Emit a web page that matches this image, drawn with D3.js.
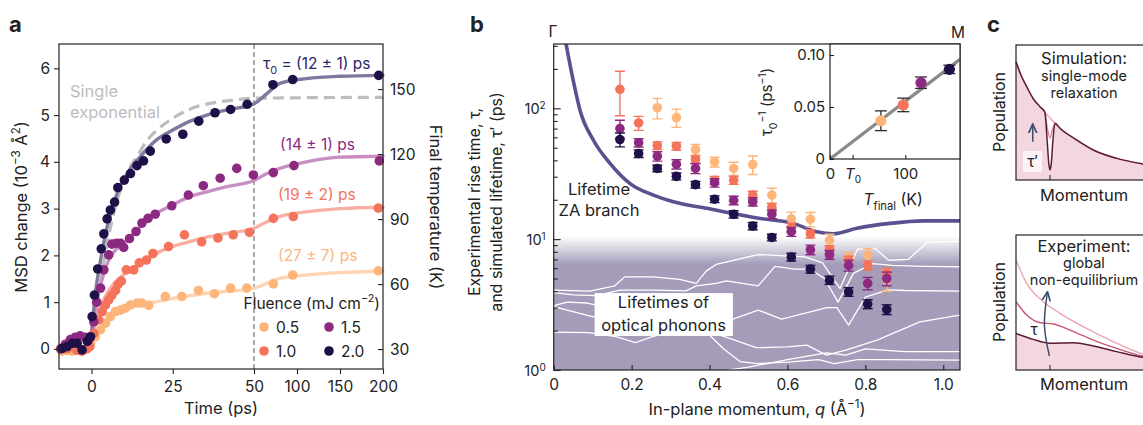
<!DOCTYPE html>
<html>
<head>
<meta charset="utf-8">
<script src="https://cdn.jsdelivr.net/npm/d3@7"></script>
<style>
  body { margin: 0; background: #fff; }
  svg { display: block; font-family: Inter, "Noto Sans", sans-serif; }
</style>
</head>
<body>
<svg id="fig" width="1143" height="425"></svg>
<script>
// ---------- panel a : MSD change vs time ----------
const fluences = ["0.5", "1.0", "1.5", "2.0"];
const fluenceColors = ["#fdb57a", "#f4735b", "#8c2981", "#1f1148"];
const fitColors = ["#fed4b3", "#f9b0a2", "#c98fc2", "#7f789f"];
const tauLabels = ["(27 ± 7) ps", "(19 ± 2) ps", "(14 ± 1) ps", "(12 ± 1) ps"];
const timeTicks = [0, 25, 50, 100, 150, 200];
const msdTicks = [0, 1, 2, 3, 4, 5, 6];
const tempTicks = [30, 60, 90, 120, 150];

const t05 = [-9, -7.5, -6, -4.5, -3, -1.5, -0.3, 1.2, 2.8, 4.3, 5.8, 7.4, 8.9, 10.4, 12, 14, 15.5, 17.6, 22.7, 27.8, 32.9, 37.8, 42.8, 47.8, 72.5, 95, 194.6];
const msd05 = [-0.05, -0.03, -0.05, -0.02, -0.04, 0.0, 0.12, 0.26, 0.41, 0.55, 0.69, 0.8, 0.83, 0.87, 0.94, 0.98, 0.98, 0.93, 1.12, 1.12, 1.25, 1.18, 1.3, 1.3, 1.39, 1.58, 1.67];
const t10 = [-9, -7.5, -6, -4.5, -3, -1.5, -0.5, 0.7, 2.2, 3.3, 4.3, 5.3, 6.3, 7.4, 8.2, 9.2, 10.7, 13, 14.7, 16.9, 18.9, 23.7, 28.6, 33.9, 38.9, 43.6, 48.6, 72.5, 95.7, 194.6];
const msd10 = [0.02, 0.0, 0.05, -0.03, -0.05, 0.0, 0.05, 0.33, 0.62, 0.8, 0.94, 1.05, 1.15, 1.25, 1.38, 1.45, 1.69, 1.69, 1.84, 1.9, 2.04, 2.19, 2.44, 2.29, 2.37, 2.44, 2.49, 2.79, 2.83, 3.01];
const t15 = [-9.5, -8, -6.5, -5, -3.5, -2, -1, 0.7, 1.6, 2.8, 3.8, 5.3, 6.3, 7.7, 8.9, 9.9, 11.7, 13.7, 15.5, 17.4, 19.6, 24.7, 29.8, 34.4, 39.6, 44.7, 49.8, 72.5, 96.5, 195.7];
const msd15 = [0.0, 0.1, 0.2, 0.25, 0.28, 0.25, 0.18, 0.58, 1.0, 1.3, 1.69, 2.01, 2.24, 2.26, 2.26, 2.17, 2.36, 2.51, 2.69, 2.79, 2.88, 3.06, 3.29, 3.49, 3.65, 3.86, 3.72, 3.77, 3.92, 4.02];
const t20 = [-9, -7.5, -5.9, -4.4, -2.9, -1.3, -0.3, 0.2, 0.9, 1.9, 3.0, 3.8, 4.8, 5.8, 7.1, 8.1, 10.1, 12, 14, 16, 18.1, 23, 28.1, 33, 38, 42.8, 47.9, 72, 95, 195];
const msd20 = [0.01, 0.05, 0.12, 0.12, -0.02, 0.16, 0.26, 0.69, 1.15, 1.71, 2.14, 2.46, 2.78, 2.97, 3.14, 3.45, 3.61, 3.75, 3.92, 4.02, 4.23, 4.49, 4.59, 4.87, 5.05, 5.12, 5.23, 5.65, 5.76, 5.85];

// fitted curves
const fitT05 = [-10, -0.5, 0.7, 2.8, 5.8, 9.9, 15, 20, 25, 35.5, 50, 65, 80, 111, 150, 200];
const fitV05 = [0, 0, 0.2, 0.45, 0.69, 0.83, 0.94, 1.01, 1.08, 1.19, 1.3, 1.4, 1.51, 1.58, 1.63, 1.66];
const fitT10 = [-10, -0.5, 0.7, 2.8, 4.8, 7.9, 12, 17, 21, 25, 30, 35.5, 41.6, 50, 65, 80, 111, 150, 200];
const fitV10 = [0, 0, 0.4, 0.9, 1.19, 1.47, 1.69, 1.9, 2.08, 2.19, 2.29, 2.39, 2.47, 2.58, 2.72, 2.83, 2.93, 3.0, 3.03];
const fitT15 = [-10, -0.5, 0.7, 2.2, 3.8, 5.8, 7.9, 9.9, 15, 20, 25, 30, 35.5, 41.6, 50, 65, 80, 111, 150, 200];
const fitV15 = [0, 0, 0.62, 1.19, 1.62, 1.97, 2.15, 2.26, 2.61, 2.9, 3.08, 3.25, 3.36, 3.47, 3.6, 3.75, 3.86, 4.0, 4.1, 4.12];
const fitT20 = [-10, -0.5, 0.2, 1.2, 2.8, 4.8, 7.9, 11, 15, 20, 25, 30, 35.5, 41.6, 50, 65, 80, 111, 150, 200];
const fitV20 = [0, 0, 0.48, 1.19, 1.9, 2.61, 3.33, 3.75, 4.11, 4.47, 4.68, 4.86, 5.0, 5.11, 5.24, 5.46, 5.68, 5.78, 5.83, 5.85];
const singleT = [-1, 0, 1, 2, 4, 6, 8, 10, 12, 14, 17, 20, 25, 30, 35, 40, 45, 50, 200];
const singleV = [0, 0.1, 0.6, 1.1, 1.95, 2.65, 3.2, 3.6, 3.9, 4.11, 4.45, 4.67, 4.93, 5.12, 5.23, 5.29, 5.33, 5.36, 5.38];

// ---------- panel b : lifetimes vs momentum ----------
const qCols = [0.17, 0.218, 0.266, 0.315, 0.364, 0.413, 0.462, 0.511, 0.56, 0.61, 0.659, 0.708, 0.757, 0.806, 0.855];
const tau05 = [null, null, 101, 85, 48.4, 38.9, 34.7, 37.2, 21.7, 14.3, 14.2, 9.8, 7.2, 7.55, 4.9];
const err05 = [null, null, 18, 13.5, 4.5, 3.3, 4, 6, 2.8, 1.8, 1.8, 1.1, 0.7, 0.9, 0.9];
const tau10 = [139.7, 77.3, 51.9, 51.3, 40.8, 28.2, 28.2, 21.7, 17.5, 12.3, 11.0, 8.3, 6.9, 6.3, 5.5];
const err10 = [52, 9.5, 3.5, 3.5, 2.5, 2, 2, 1.5, 1.2, 0.9, 0.8, 0.6, 0.5, 0.5, 0.5];
const tau15 = [70, 54.6, 43, 37.4, 34.7, 27.0, 19.8, 19.3, 15.5, 11.4, 8.3, 7.6, 6.3, 4.6, 5.0];
const err15 = [11, 4, 3.5, 3, 3, 2, 1.5, 1.4, 1.2, 0.9, 0.7, 0.6, 0.6, 0.5, 0.6];
const tau20 = [57.7, 45.1, 34.7, 30.2, 26.1, 20.2, 15.5, 12.6, 10.3, 7.3, 5.9, 4.86, 3.96, 3.19, 2.9];
const err20 = [7, 3, 2, 1.8, 1.5, 1.2, 1, 0.8, 0.6, 0.5, 0.4, 0.35, 0.3, 0.25, 0.25];

const zaQ = [0.03, 0.05, 0.0675, 0.102, 0.145, 0.196, 0.256, 0.307, 0.393, 0.53, 0.615, 0.675, 0.718, 0.778, 0.863, 0.949, 1.043];
const zaTau = [330, 163.6, 96.6, 57, 37.8, 26.6, 21.7, 19.3, 17.2, 14.4, 13.2, 11.4, 11.0, 12.1, 13.2, 13.8, 13.8];

// optical-phonon lifetimes (white lines), [q, tau]
const optical1 = [[0, 4.08], [0.092, 4.0], [0.157, 4.4], [0.182, 5.15], [0.255, 5.15], [0.323, 4.92], [0.366, 4.59], [0.392, 5.72], [0.417, 6.41], [0.525, 7.63], [0.594, 7.46], [0.645, 7.33], [0.69, 6.6], [0.735, 4.2], [0.78, 8.4], [0.825, 8.5], [0.86, 6.9], [0.91, 7.0], [0.96, 9.5], [1.043, 9.6]];
const optical2 = [[0, 3.9], [0.05, 3.75], [0.11, 3.7], [0.17, 4.08], [0.255, 4.08], [0.34, 4.03], [0.366, 4.4], [0.417, 4.6], [0.443, 4.8], [0.525, 4.4], [0.568, 6.2], [0.619, 5.9], [0.658, 5.9], [0.695, 5.0], [0.73, 3.3], [0.77, 5.5], [0.82, 6.5], [0.87, 6.3], [0.95, 6.2], [1.043, 6.15]];
const optical3 = [[0, 3.1], [0.035, 3.3], [0.085, 3.25], [0.13, 3.05], [0.18, 2.65], [0.255, 2.55], [0.34, 2.35], [0.4, 2.3], [0.46, 2.45], [0.525, 2.87], [0.585, 2.45], [0.646, 2.72], [0.701, 3.0], [0.727, 3.0], [0.757, 2.2], [0.8, 3.6], [0.858, 4.1], [0.902, 4.05], [1.043, 4.0]];
const optical4 = [[0, 3.05], [0.084, 2.63], [0.161, 2.31], [0.212, 2.25], [0.263, 2.28], [0.315, 2.28], [0.358, 2.25], [0.4, 1.85], [0.435, 1.46], [0.478, 1.16], [0.525, 1.12], [0.6, 1.15], [0.68, 1.2], [0.72, 1.12], [0.78, 1.2], [0.85, 1.2], [1.043, 1.19]];
const optical5 = [[0, 1.95], [0.09, 1.93], [0.16, 1.8], [0.21, 1.62], [0.25, 1.78], [0.31, 2.0], [0.38, 2.05], [0.45, 1.75], [0.52, 1.48], [0.6, 1.5], [0.65, 1.55], [0.7, 1.3], [0.75, 1.42], [0.83, 1.69], [0.94, 2.33], [1.043, 2.63]];
const optical6 = [[0.45, 1.0], [0.5, 1.05], [0.6, 1.2], [0.7, 1.35], [0.75, 1.3], [0.8, 1.45], [0.9, 1.38], [1.043, 1.38]];
const momentumTicks = [0, 0.2, 0.4, 0.6, 0.8, 1.0];
const lifetimeTicks = [1, 10, 100];
const lifetimeMinor = [2, 3, 4, 5, 6, 7, 8, 9, 20, 30, 40, 50, 60, 70, 80, 90, 200, 300];

// inset
const tFinal = [67.6, 97.3, 120.8, 158.5];
const invTau = [0.0368, 0.052, 0.0734, 0.0862];
const invTauErr = [0.0095, 0.0065, 0.0055, 0.004];
const insetFitT = [0, 172.6];
const insetFitV = [0, 0.0958];
const insetYTicks = [0, 0.05, 0.1];
const insetXTicks = [0, 30, 100];

// ---------- panel c : schematics ----------
const simSmooth = [[0, 0.876], [0.04, 0.77], [0.08, 0.691], [0.13, 0.6], [0.179, 0.543], [0.216, 0.5], [0.254, 0.46], [0.291, 0.42], [0.328, 0.383], [0.453, 0.296], [0.577, 0.222], [0.751, 0.16], [0.945, 0.119], [1, 0.11]];
const simDip = [[0, 0.876], [0.04, 0.77], [0.08, 0.691], [0.13, 0.6], [0.179, 0.543], [0.216, 0.5], [0.232, 0.3], [0.245, 0.12], [0.254, 0.075], [0.263, 0.12], [0.276, 0.3], [0.291, 0.42], [0.328, 0.383], [0.453, 0.296], [0.577, 0.222], [0.751, 0.16], [0.945, 0.119], [1, 0.11]];
const simMid = [[0.216, 0.5], [0.235, 0.38], [0.254, 0.31], [0.273, 0.38], [0.291, 0.42]];
const expLight = [[0, 0.815], [0.08, 0.642], [0.204, 0.506], [0.328, 0.42], [0.502, 0.321], [0.701, 0.222], [0.945, 0.119], [1, 0.105]];
const expMid = [[0, 0.506], [0.08, 0.407], [0.179, 0.35], [0.279, 0.341], [0.403, 0.296], [0.577, 0.222], [0.751, 0.16], [0.945, 0.104], [1, 0.095]];
const expDark = [[0, 0.271], [0.129, 0.227], [0.254, 0.198], [0.427, 0.202], [0.577, 0.178], [0.751, 0.136], [0.945, 0.094], [1, 0.088]];
const expArrow = [[0.249, 0.104], [0.212, 0.333], [0.234, 0.573]];
const simArrow = [[0.125, 0.284], [0.125, 0.407]];

const svg = d3.select("#fig");
const ink = "#222";

// text with sub/superscripts; dy only where the baseline moves
function rich(sel, parts, fs) {
  let shift = 0;
  parts.forEach(p => {
    const target = p.sup ? -0.42 * fs : p.sub ? 0.3 * fs : 0;
    const ts = sel.append("tspan").text(p.t);
    if (target - shift !== 0) ts.attr("dy", target - shift);
    if (p.sup || p.sub) ts.attr("font-size", 0.7 * fs);
    if (p.it) ts.attr("font-style", "italic");
    shift = target;
  });
  return sel;
}

function label(g, x, y, parts, fs, opts = {}) {
  const t = g.append("text")
    .attr("font-size", fs)
    .attr("fill", opts.fill || ink)
    .attr("text-anchor", opts.anchor || "start");
  if (opts.rotate) t.attr("transform", `translate(${x},${y}) rotate(${opts.rotate})`);
  else t.attr("x", x).attr("y", y);
  if (opts.weight) t.attr("font-weight", opts.weight);
  return rich(t, typeof parts === "string" ? [{t: parts}] : parts, fs);
}

function styleAxis(g, fs) {
  g.attr("font-family", null).attr("font-size", fs);
  g.select(".domain").remove();
  g.selectAll(".tick line").attr("stroke", ink).attr("stroke-width", 1.1);
  g.selectAll(".tick text").attr("fill", ink);
}

const zip = (a, b) => a.map((d, i) => [d, b[i]]);

// ================= panel a =================
const gA = svg.append("g");
const xA = d3.scaleLinear().domain([-10, 50, 200]).range([59, 254, 383]);
const yA = d3.scaleLinear().domain([-0.43, 6.52]).range([369, 44]);
const yT = d3.scaleLinear().domain([20.8, 170.8]).range([369, 44]);

gA.append("line").attr("x1", xA(50)).attr("x2", xA(50)).attr("y1", 44).attr("y2", 369)
  .attr("stroke", "#555").attr("stroke-width", 1).attr("stroke-dasharray", "5,3");

const lineA = d3.line().x(d => xA(d[0])).y(d => yA(d[1])).curve(d3.curveMonotoneX);

gA.append("path").attr("d", lineA(zip(singleT, singleV)))
  .attr("fill", "none").attr("stroke", "#bdbdbd").attr("stroke-width", 3.2).attr("stroke-dasharray", "11,6");

const fitsT = [fitT05, fitT10, fitT15, fitT20];
const fitsV = [fitV05, fitV10, fitV15, fitV20];
fitsT.forEach((ft, i) => {
  gA.append("path").attr("d", lineA(zip(ft, fitsV[i])))
    .attr("fill", "none").attr("stroke", fitColors[i])
    .attr("stroke-width", 3.4).attr("stroke-linecap", "round");
});

const ptsT = [t05, t10, t15, t20];
const ptsV = [msd05, msd10, msd15, msd20];
ptsT.forEach((tt, i) => {
  gA.append("g").selectAll("circle").data(zip(tt, ptsV[i])).join("circle")
    .attr("cx", d => xA(d[0])).attr("cy", d => yA(d[1])).attr("r", 4.8)
    .attr("fill", fluenceColors[i]);
});

gA.append("rect").attr("x", 59).attr("y", 44).attr("width", 324).attr("height", 325)
  .attr("fill", "none").attr("stroke", ink).attr("stroke-width", 1.2);

gA.append("g").attr("transform", "translate(59,0)")
  .call(d3.axisLeft(yA).tickValues(msdTicks).tickSize(5).tickPadding(4).tickFormat(d3.format("d")))
  .call(styleAxis, 15.5);
gA.append("g").attr("transform", "translate(0,369)")
  .call(d3.axisBottom(xA).tickValues(timeTicks).tickSize(5).tickPadding(7)).call(styleAxis, 15.5);
gA.append("g").attr("transform", "translate(383,0)")
  .call(d3.axisRight(yT).tickValues(tempTicks).tickSize(-5).tickPadding(7)).call(styleAxis, 15.5);

label(gA, 27, 207, [{t: "MSD change (10"}, {t: "−3", sup: true}, {t: " Å"}, {t: "2", sup: true}, {t: ")"}], 16.5, {anchor: "middle", rotate: -90});
label(gA, 221, 414, "Time (ps)", 16.5, {anchor: "middle"});
label(gA, 430, 207, "Final temperature (K)", 16.5, {anchor: "middle", rotate: 90});
label(gA, 9, 32, "a", 22, {weight: 700});

label(gA, 70, 97, "Single", 16.5, {fill: "#bdbdbd"});
label(gA, 70, 118, "exponential", 16.5, {fill: "#bdbdbd"});

label(gA, 263, 69, [{t: "τ"}, {t: "0", sub: true}, {t: " = (12 ± 1) ps"}], 15.5, {fill: "#2e2366"});
label(gA, 280, 150, tauLabels[2], 15.5, {fill: fluenceColors[2]});
label(gA, 278, 200, tauLabels[1], 15.5, {fill: fluenceColors[1]});
label(gA, 278, 261, tauLabels[0], 15.5, {fill: fluenceColors[0]});

label(gA, 380, 309, [{t: "Fluence (mJ cm"}, {t: "−2", sup: true}, {t: ")"}], 15.5, {anchor: "end"});
const legendPos = [[264, 327], [264, 351], [329, 327], [329, 351]];
fluences.forEach((f, i) => {
  gA.append("circle").attr("cx", legendPos[i][0]).attr("cy", legendPos[i][1]).attr("r", 4.8).attr("fill", fluenceColors[i]);
  label(gA, legendPos[i][0] + 12, legendPos[i][1] + 5.5, f, 15.5);
});

// ================= panel b =================
const gB = svg.append("g");
const xB = d3.scaleLinear().domain([0, 1.043]).range([553.7, 960]);
const yB = d3.scaleLog().domain([1, 310]).range([370, 44]);

const defs = svg.append("defs");
defs.append("clipPath").attr("id", "clipB").append("rect")
  .attr("x", 553.7).attr("y", 44).attr("width", 960 - 553.7).attr("height", 326);
const grad = defs.append("linearGradient").attr("id", "optGrad")
  .attr("gradientUnits", "userSpaceOnUse").attr("x1", 0).attr("x2", 0).attr("y1", yB(10.5)).attr("y2", yB(6.4));
grad.append("stop").attr("offset", 0).attr("stop-color", "#a49cb9").attr("stop-opacity", 0);
grad.append("stop").attr("offset", 1).attr("stop-color", "#a49cb9").attr("stop-opacity", 1);

const plotB = gB.append("g").attr("clip-path", "url(#clipB)");
plotB.append("rect").attr("x", 553.7).attr("width", 960 - 553.7)
  .attr("y", yB(10.5)).attr("height", 370 - yB(10.5)).attr("fill", "url(#optGrad)");

const lineB = d3.line().x(d => xB(d[0])).y(d => yB(d[1]));
[optical1, optical2, optical3, optical4, optical5, optical6].forEach(o => {
  plotB.append("path").attr("d", lineB(o)).attr("fill", "none")
    .attr("stroke", "#fff").attr("stroke-width", 1.3).attr("stroke-linejoin", "round");
});

const zaLine = d3.line().x(d => xB(d[0])).y(d => yB(d[1])).curve(d3.curveMonotoneX);
plotB.append("path").attr("d", zaLine(zip(zaQ, zaTau)))
  .attr("fill", "none").attr("stroke", "#5a5290").attr("stroke-width", 3.6);

// white box for optical label
gB.append("rect").attr("x", xB(0.105)).attr("y", yB(3.87))
  .attr("width", xB(0.46) - xB(0.105)).attr("height", yB(1.82) - yB(3.87)).attr("fill", "#fff");
label(gB, xB(0.282), 308, "Lifetimes of", 16.5, {anchor: "middle"});
label(gB, xB(0.282), 331, "optical phonons", 16.5, {anchor: "middle"});
label(gB, 599, 195, "Lifetime", 16.5, {anchor: "middle"});
label(gB, 599, 216, "ZA branch", 16.5, {anchor: "middle"});

const tauSets = [tau05, tau10, tau15, tau20];
const errSets = [err05, err10, err15, err20];
tauSets.forEach((ts, i) => {
  const data = qCols.map((q, j) => ({q, v: ts[j], e: errSets[i][j]})).filter(d => d.v != null);
  const g = plotB.append("g").attr("stroke", fluenceColors[i]).attr("stroke-width", 1.4);
  data.forEach(d => {
    const x = xB(d.q), y1 = yB(d.v - d.e), y2 = yB(d.v + d.e);
    g.append("line").attr("x1", x).attr("x2", x).attr("y1", y1).attr("y2", y2);
    g.append("line").attr("x1", x - 5).attr("x2", x + 5).attr("y1", y1).attr("y2", y1);
    g.append("line").attr("x1", x - 5).attr("x2", x + 5).attr("y1", y2).attr("y2", y2);
  });
  plotB.append("g").selectAll("circle").data(data).join("circle")
    .attr("cx", d => xB(d.q)).attr("cy", d => yB(d.v)).attr("r", 4.8).attr("fill", fluenceColors[i]);
});

gB.append("rect").attr("x", 553.7).attr("y", 44).attr("width", 960 - 553.7).attr("height", 326)
  .attr("fill", "none").attr("stroke", ink).attr("stroke-width", 1.2);

const axYB = gB.append("g").attr("transform", "translate(553.7,0)")
  .call(d3.axisLeft(yB).tickValues(lifetimeTicks).tickSize(-7).tickPadding(8).tickFormat(() => ""))
  .call(styleAxis, 14.5);
axYB.selectAll(".tick text").attr("dy", null).each(function(d) {
  const t = d3.select(this);
  t.append("tspan").attr("dy", "0.35em").text("10");
  t.append("tspan").attr("dy", "-0.45em").attr("font-size", 10).text(String(Math.round(Math.log10(d))));
});
gB.append("g").attr("transform", "translate(553.7,0)")
  .call(d3.axisLeft(yB).tickValues(lifetimeMinor).tickSize(-4).tickFormat(() => ""))
  .call(styleAxis, 14);
gB.append("g").attr("transform", "translate(0,370)")
  .call(d3.axisBottom(xB).tickValues(momentumTicks).tickSize(-5).tickPadding(9)
    .tickFormat(d => d === 0 ? "0" : d.toFixed(1)))
  .call(styleAxis, 15.5);

label(gB, 480, 202, "Experimental rise time, τ,", 16, {anchor: "middle", rotate: -90});
label(gB, 502, 202, "and simulated lifetime, τ′ (ps)", 16, {anchor: "middle", rotate: -90});
label(gB, 757, 415, [{t: "In-plane momentum, "}, {t: "q", it: true}, {t: " (Å"}, {t: "−1", sup: true}, {t: ")"}], 16.5, {anchor: "middle"});
label(gB, 553, 37, "Γ", 15.5, {anchor: "middle"});
label(gB, 958, 38, "M", 15.5, {anchor: "middle"});
label(gB, 470, 32, "b", 22, {weight: 700});

// ---- inset ----
const gI = svg.append("g");
const xI = d3.scaleLinear().domain([0, 172.6]).range([830, 960]);
const yI = d3.scaleLinear().domain([0, 0.1106]).range([159, 44]);
gI.append("rect").attr("x", 830).attr("y", 44).attr("width", 130).attr("height", 115).attr("fill", "#fff");
defs.append("clipPath").attr("id", "clipI").append("rect").attr("x", 830).attr("y", 44).attr("width", 130).attr("height", 115);
gI.append("path").attr("clip-path", "url(#clipI)")
  .attr("d", d3.line().x(d => xI(d[0])).y(d => yI(d[1]))(zip(insetFitT, insetFitV)))
  .attr("stroke", "#8a8a8a").attr("stroke-width", 3.2).attr("fill", "none");
tFinal.forEach((t, i) => {
  const x = xI(t), y1 = yI(invTau[i] - invTauErr[i]), y2 = yI(invTau[i] + invTauErr[i]);
  const g = gI.append("g").attr("stroke", "#2a2a2a").attr("stroke-width", 1.3);
  g.append("line").attr("x1", x).attr("x2", x).attr("y1", y1).attr("y2", y2);
  g.append("line").attr("x1", x - 6).attr("x2", x + 6).attr("y1", y1).attr("y2", y1);
  g.append("line").attr("x1", x - 6).attr("x2", x + 6).attr("y1", y2).attr("y2", y2);
  gI.append("circle").attr("cx", x).attr("cy", yI(invTau[i])).attr("r", 5.6).attr("fill", fluenceColors[i]);
});
gI.append("rect").attr("x", 830).attr("y", 44).attr("width", 130).attr("height", 115)
  .attr("fill", "none").attr("stroke", ink).attr("stroke-width", 1.2);
gI.append("g").attr("transform", "translate(830,0)")
  .call(d3.axisLeft(yI).tickValues(insetYTicks).tickSize(-4).tickPadding(5)
    .tickFormat(d => d === 0 ? "0" : d.toFixed(2)))
  .call(styleAxis, 15);
const axXI = gI.append("g").attr("transform", "translate(0,159)")
  .call(d3.axisBottom(xI).tickValues(insetXTicks).tickSize(-4).tickPadding(9).tickFormat(d => d === 30 ? "" : d))
  .call(styleAxis, 15);
axXI.selectAll(".tick text").filter(d => d === 30).each(function() {
  const t = d3.select(this);
  t.append("tspan").attr("font-style", "italic").text("T");
  t.append("tspan").attr("dy", 4).attr("font-size", 10).text("0");
});
label(gI, 772, 102, [{t: "τ"}, {t: "0", sub: true}, {t: "−1", sup: true}, {t: " (ps"}, {t: "−1", sup: true}, {t: ")"}], 15, {anchor: "middle", rotate: -90});
label(gI, 893, 205, [{t: "T", it: true}, {t: "final", sub: true}, {t: " (K)"}], 16, {anchor: "middle"});

// ================= panel c =================
const gC = svg.append("g");
const xC = d3.scaleLinear().domain([0, 1]).range([1016, 1150]);
const yC1 = d3.scaleLinear().domain([0, 1]).range([180, 45]);
const yC2 = d3.scaleLinear().domain([0, 1]).range([370, 235]);

defs.append("marker").attr("id", "arrowC").attr("viewBox", "0 0 10 10").attr("refX", 8).attr("refY", 5)
  .attr("markerWidth", 7).attr("markerHeight", 7).attr("orient", "auto-start-reverse")
  .append("path").attr("d", "M0,1 L9,5 L0,9").attr("fill", "none").attr("stroke", "#3e4d6b").attr("stroke-width", 1.6);

// upper: simulation
const l1 = d3.line().x(d => xC(d[0])).y(d => yC1(d[1])).curve(d3.curveMonotoneX);
const a1 = d3.area().x(d => xC(d[0])).y0(yC1(0)).y1(d => yC1(d[1])).curve(d3.curveMonotoneX);
gC.append("path").attr("d", a1(simDip)).attr("fill", "#f4d7de");
gC.append("path").attr("d", l1(simSmooth)).attr("fill", "none").attr("stroke", "#eaa6b5").attr("stroke-width", 1.4);
gC.append("path").attr("d", l1(simMid)).attr("fill", "none").attr("stroke", "#d88b9d").attr("stroke-width", 1.4);
gC.append("path").attr("d", l1(simDip)).attr("fill", "none").attr("stroke", "#5c1a33").attr("stroke-width", 1.5);
gC.append("rect").attr("x", 1016).attr("y", 45).attr("width", 134).attr("height", 135)
  .attr("fill", "none").attr("stroke", ink).attr("stroke-width", 1.2);
gC.append("line").attr("x1", xC(0.254)).attr("x2", xC(0.254)).attr("y1", 180).attr("y2", 175).attr("stroke", ink);
gC.append("path").attr("d", d3.line().x(d => xC(d[0])).y(d => yC1(d[1]))(simArrow))
  .attr("stroke", "#3e4d6b").attr("stroke-width", 1.5).attr("fill", "none").attr("marker-end", "url(#arrowC)");
gC.append("rect").attr("x", 1023).attr("y", 151).attr("width", 19).attr("height", 21).attr("fill", "#fbf3f5");
label(gC, 1032.5, 167, "τ′", 15.5, {anchor: "middle"});
label(gC, 1084, 64, "Simulation:", 16.5, {anchor: "middle"});
label(gC, 1084, 81, "single-mode", 14.5, {anchor: "middle"});
label(gC, 1084, 98, "relaxation", 14.5, {anchor: "middle"});
label(gC, 1005, 112, "Population", 16, {anchor: "middle", rotate: -90});
label(gC, 1084, 201, "Momentum", 16.5, {anchor: "middle"});

// lower: experiment
const l2 = d3.line().x(d => xC(d[0])).y(d => yC2(d[1])).curve(d3.curveMonotoneX);
const a2 = d3.area().x(d => xC(d[0])).y0(yC2(0)).y1(d => yC2(d[1])).curve(d3.curveMonotoneX);
gC.append("path").attr("d", a2(expDark)).attr("fill", "#f4d7de");
gC.append("path").attr("d", l2(expLight)).attr("fill", "none").attr("stroke", "#eaa6b5").attr("stroke-width", 1.4);
gC.append("path").attr("d", l2(expMid)).attr("fill", "none").attr("stroke", "#c9566f").attr("stroke-width", 1.4);
gC.append("path").attr("d", l2(expDark)).attr("fill", "none").attr("stroke", "#5c1a33").attr("stroke-width", 1.5);
gC.append("rect").attr("x", 1016).attr("y", 235).attr("width", 134).attr("height", 135)
  .attr("fill", "none").attr("stroke", ink).attr("stroke-width", 1.2);
gC.append("line").attr("x1", xC(0.254)).attr("x2", xC(0.254)).attr("y1", 370).attr("y2", 365).attr("stroke", ink);
gC.append("path").attr("d", d3.line().x(d => xC(d[0])).y(d => yC2(d[1])).curve(d3.curveNatural)(expArrow))
  .attr("stroke", "#3e4d6b").attr("stroke-width", 1.5).attr("fill", "none").attr("marker-end", "url(#arrowC)");
label(gC, 1034, 335, "τ", 15.5, {anchor: "middle"});
label(gC, 1084, 252, "Experiment:", 16.5, {anchor: "middle"});
label(gC, 1084, 268, "global", 14.5, {anchor: "middle"});
label(gC, 1084, 285, "non-equilibrium", 14.5, {anchor: "middle"});
label(gC, 1005, 302, "Population", 16, {anchor: "middle", rotate: -90});
label(gC, 1084, 390, "Momentum", 16.5, {anchor: "middle"});
label(gC, 987, 32, "c", 22, {weight: 700});
</script>
</body>
</html>
